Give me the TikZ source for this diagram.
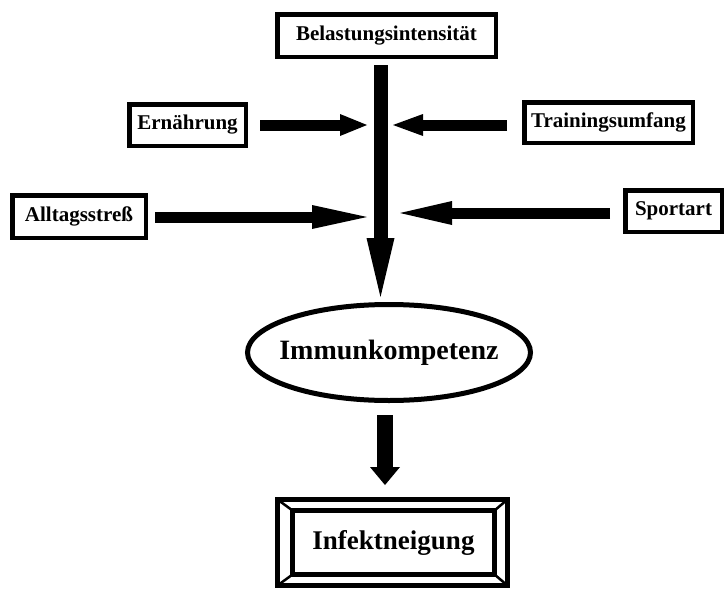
\documentclass[tikz,border=0pt]{standalone}
\usepackage{fontspec}
\setmainfont{Liberation Serif}
\usetikzlibrary{arrows.meta,shapes.geometric}
\begin{document}
\begin{tikzpicture}[x=1pt,y=-1pt,
  box/.style={draw, line width=4.5pt, inner sep=0pt,
    font=\fontsize{21}{24}\selectfont\bfseries},
  fatarrow/.style n args={4}{line width=#1,
    -{Triangle[length=#3,width=#2,line width=0pt]}, shorten <=#4},
]
\useasboundingbox (0,0) rectangle (726,589);

% boxes
\node[box, minimum width=218.5pt, minimum height=42.5pt] (bel) at (386.5,35.5) {Belastungsintensität};
\node[box, minimum width=116.5pt, minimum height=41.5pt] (ern) at (187.5,125) {Ernährung};
\node[box, minimum width=168.5pt, minimum height=40.5pt] (train) at (608.5,122.5) {Trainingsumfang};
\node[box, minimum width=133.5pt, minimum height=42.5pt] (all) at (79,216.5) {Alltagsstreß};
\node[box, minimum width=96.5pt, minimum height=41.5pt] (sport) at (673.5,211) {Sportart};

% ellipse
\node[draw, ellipse, line width=5pt, inner sep=0pt, minimum width=283pt, minimum height=96pt,
  font=\fontsize{28}{32}\selectfont\bfseries] (imm) at (389,352.5) {\makebox[0pt]{Immunkompetenz}};

% framed result box
\node[draw, line width=5pt, outer sep=0pt, inner sep=0pt, minimum width=202pt, minimum height=64pt,
  font=\fontsize{27}{31}\selectfont\bfseries] (inf) at (393.5,542.5) {Infektneigung};
\coordinate (onw) at ([shift={(-15,-11)}]inf.north west);
\coordinate (ose) at ([shift={(13,11)}]inf.south east);
\coordinate (one) at (ose |- onw);
\coordinate (osw) at (onw |- ose);
\draw[line width=5pt] (onw) rectangle (ose);
\draw[line width=2.5pt] (onw) -- (inf.north west)
  (one) -- (inf.north east)
  (ose) -- (inf.south east)
  (osw) -- (inf.south west);

% arrow tips
\coordinate (mtip) at (380.5,297);
\coordinate (etip) at (367,125);
\coordinate (ttip) at (393,125);
\coordinate (atip) at (367,217);
\coordinate (stip) at (400,213);
\coordinate (dtip) at (385,485);

% connectors
\draw[fatarrow={14pt}{28pt}{59pt}{6pt}] (bel.south -| mtip) -- (mtip);
\draw[fatarrow={11pt}{22pt}{27pt}{12pt}] (ern.east |- etip) -- (etip);
\draw[fatarrow={11pt}{22pt}{30pt}{15pt}] (train.west |- ttip) -- (ttip);
\draw[fatarrow={11pt}{24pt}{55pt}{7pt}] (all.east |- atip) -- (atip);
\draw[fatarrow={11pt}{24pt}{52pt}{13pt}] (sport.west |- stip) -- (stip);
\draw[fatarrow={16pt}{30pt}{18pt}{12pt}] (imm.south -| dtip) -- (dtip);
\end{tikzpicture}
\end{document}
